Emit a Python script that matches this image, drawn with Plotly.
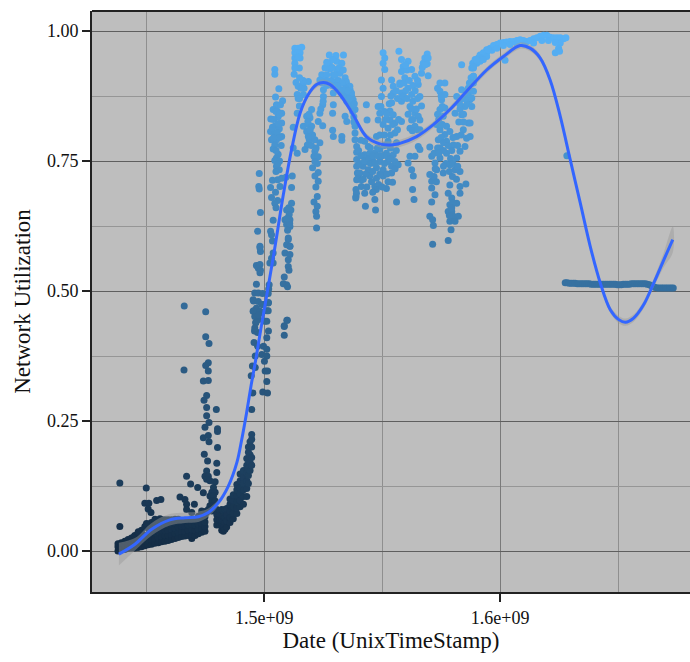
import numpy as np
import plotly.graph_objects as go

# dates are in millions of seconds of Unix time, utilisation is a fraction
LOW_BAND = [
 (1438,.000),(1438,.008),(1438,.014),(1439.4,.002),(1439.4,.009),(1439.4,.016),(1440.9,.003),(1440.9,.011),(1440.9,.019),
 (1442.3,.005),(1442.3,.012),(1442.3,.022),(1443.7,.006),(1443.7,.014),(1443.7,.025),(1445.1,.006),(1445.1,.014),(1445.1,.022),(1445.1,.03),
 (1446.5,.007),(1446.5,.015),(1446.5,.024),(1446.5,.034),(1448,.008),(1448,.017),(1448,.028),(1448,.04),
 (1449.4,.01),(1449.4,.019),(1449.4,.03),(1449.4,.047),(1450.8,.012),(1450.8,.021),(1450.8,.032),(1450.8,.044),(1450.8,.052),
 (1452.2,.013),(1452.2,.022),(1452.2,.034),(1452.2,.046),(1452.2,.055),(1453.6,.015),(1453.6,.024),(1453.6,.036),(1453.6,.048),(1453.6,.057),
 (1455.1,.016),(1455.1,.026),(1455.1,.038),(1455.1,.05),(1455.1,.058),(1456.5,.018),(1456.5,.028),(1456.5,.04),(1456.5,.05),(1456.5,.06),
 (1457.9,.019),(1457.9,.03),(1457.9,.04),(1457.9,.05),(1457.9,.06),(1459.3,.02),(1459.3,.03),(1459.3,.04),(1459.3,.05),(1459.3,.06),
 (1460.7,.022),(1460.7,.032),(1460.7,.042),(1460.7,.052),(1460.7,.06),(1462.2,.024),(1462.2,.034),(1462.2,.044),(1462.2,.054),(1462.2,.061),
 (1463.6,.026),(1463.6,.036),(1463.6,.046),(1463.6,.056),(1463.6,.061),(1465,.028),(1465,.038),(1465,.048),(1465,.058),
 (1466.4,.029),(1466.4,.038),(1466.4,.048),(1466.4,.058),(1467.8,.03),(1467.8,.04),(1467.8,.05),(1467.8,.058),
 (1469.3,.024),(1469.3,.032),(1469.3,.042),(1469.3,.052),(1469.3,.06),(1470.7,.03),(1470.7,.04),(1470.7,.05),(1470.7,.06),
 (1472.1,.033),(1472.1,.042),(1472.1,.052),(1472.1,.062),(1472.1,.067),(1473.5,.036),(1473.5,.044),(1473.5,.054),(1473.5,.064),(1473.5,.072),
 (1474.9,.038),(1474.9,.047),(1474.9,.056),(1474.9,.066),(1474.9,.076),
]
EARLY_SCATTER = [
 (1438.8,.131),(1438.8,.047),(1444.5,.026),(1446.6,.037),(1450,.121),(1449.4,.092),(1451.1,.092),(1450.8,.081),(1452,.074),(1450.1,.053),
 (1453.7,.061),(1455.8,.062),(1454.4,.097),(1456.2,.099),(1464.3,.104),(1466.4,.099),(1467.1,.09),(1470.4,.09),(1467.1,.08),(1469.3,.074),
 (1473.5,.077),(1467.1,.144),(1468.8,.129),(1471.8,.122),(1474.2,.112),(1466.1,.471),(1466,.348),(1475.2,.46),(1475.2,.412),(1476.6,.399),
 (1476.3,.362),(1475.2,.357),(1476.3,.346),(1474.2,.327),(1476.3,.328),(1475.6,.299),(1474.5,.29),(1475.6,.276),(1479.7,.272),(1475.6,.26),
 (1476.6,.247),(1474.9,.238),(1480.2,.235),(1480.2,.23),(1474.2,.218),(1476.3,.222),(1476.6,.21),(1480.2,.199),(1474.6,.186),(1476,.173),
 (1479.9,.169),(1479.9,.151),(1475.6,.154),(1474.9,.144),(1476.3,.144),(1475.6,.138),(1477,.135),(1479.2,.133),(1478.5,.122),(1477.8,.113),
 (1479.2,.113),(1477,.106),(1478.5,.106),(1477.8,.096),(1479.2,.096),(1477,.087),(1478.5,.087),(1476.3,.08),(1475.6,.074),(1477.8,.077),
]
HOOK = [
 (1479.9,.08),(1479.9,.07),(1479.9,.06),(1479.9,.05),(1481.3,.05),(1481.3,.06),(1481.3,.07),(1481.3,.078),(1482,.04),(1482,.05),(1482,.06),(1482,.07),(1482,.08),
 (1482.7,.038),(1482.7,.048),(1482.7,.058),(1482.7,.068),(1482.7,.078),(1483.4,.042),(1483.4,.055),(1483.4,.065),(1483.4,.08),
 (1484.1,.046),(1484.1,.058),(1484.1,.07),(1484.1,.082),(1485.5,.055),(1485.5,.065),(1485.5,.077),(1485.5,.09),(1485.5,.1),
 (1486.9,.062),(1486.9,.073),(1486.9,.085),(1486.9,.097),(1486.9,.108),(1488.4,.072),(1488.4,.083),(1488.4,.095),(1488.4,.107),(1488.4,.118),(1488.4,.128),
 (1489.8,.085),(1489.8,.097),(1489.8,.11),(1489.8,.122),(1489.8,.135),(1489.8,.148),(1491.2,.09),(1491.2,.105),(1491.2,.118),(1491.2,.13),(1491.2,.142),(1491.2,.155),
 (1492.6,.105),(1492.6,.12),(1492.6,.135),(1492.6,.15),(1492.6,.165),(1492.6,.178),(1493.3,.13),(1493.3,.145),(1493.3,.16),(1493.3,.175),(1493.3,.19),(1493.3,.2),
 (1494,.155),(1494,.17),(1494,.185),(1494,.2),(1494,.21),(1494.7,.165),(1494.7,.18),(1494.7,.2),(1494.7,.215),(1494.7,.224),
]
RISE_LOW = [
 (1494.7,.272),(1495.2,.304),(1494.5,.337),(1495,.356),(1496.2,.353),(1496.2,.375),(1495.7,.401),(1497.2,.394),(1495.9,.423),(1497.2,.42),
 (1496.4,.439),(1497.6,.445),(1495.5,.462),(1496.9,.462),(1499,.458),(1501.1,.462),(1495.5,.481),(1499.7,.474),(1501.8,.478),(1501.1,.442),
 (1501.8,.423),(1501.1,.41),(1499.7,.394),(1501.1,.388),(1499,.378),(1501.1,.375),(1500.1,.365),(1500.4,.346),(1501.4,.346),(1501.1,.326),
 (1499.4,.306),(1501.4,.304),(1509.6,.444),(1508.5,.433),(1508.5,.415),
 (1498.2,.583),(1498.4,.576),(1503.8,.573),(1503.1,.563),(1502.4,.554),(1503.8,.554),(1496.7,.549),(1498.2,.551),(1497.5,.544),(1498.2,.535),
 (1498.4,.54),(1510.2,.599),(1510.9,.586),(1508.8,.573),(1510.9,.57),(1510.2,.56),(1510.2,.547),(1510.5,.54),(1508.5,.527),(1508.1,.514),
 (1509.5,.512),(1509.9,.508),(1496.7,.513),(1502.1,.512),(1501.9,.504),(1496,.496),(1497.5,.496),(1499.3,.495),(1501.7,.495),(1495.3,.483),
 (1497.5,.48),(1501.7,.477),(1498.9,.474),(1496.7,.467),(1495.3,.461),(1498.2,.461),(1501.7,.462),(1496,.451),(1497.5,.454),(1496.5,.44),
 (1500.3,.442),(1509.8,.444),(1508.5,.432),(1496,.429),
]
RISE_HIGH = [
 (1497.9,.726),(1497.7,.701),(1497.9,.696),(1498.4,.651),(1497.2,.615),(1498.2,.586),(1504.5,.926),(1504.5,.917),(1506.2,.889),(1504.8,.873),
 (1507.8,.866),(1505.2,.858),(1506.9,.858),(1503.8,.849),(1505.5,.846),(1507.4,.842),(1502.8,.831),(1505.9,.835),(1507.4,.823),(1504.5,.817),
 (1506.4,.812),(1502.7,.807),(1504.5,.804),(1507.4,.797),(1503.1,.791),(1505.2,.791),(1504.5,.781),(1507.2,.78),(1503.8,.773),(1505.9,.763),
 (1505.2,.756),(1504.5,.751),(1505.2,.74),(1506.4,.733),(1505,.73),(1503.5,.713),(1505.7,.714),(1507.4,.717),(1509.2,.719),(1511.9,.721),
 (1502.7,.699),(1506.7,.701),(1511.6,.699),(1503.1,.68),(1505.7,.674),(1504.5,.669),(1505,.66),(1511.6,.669),(1509.5,.656),(1511.3,.656),
 (1510.6,.647),(1503.8,.636),(1508.8,.637),(1510.9,.637),(1509.5,.628),(1510.9,.624),(1502.7,.615),(1503.1,.608),(1510.2,.602),(1503.5,.596),
 (1509.5,.589),(1510.9,.586),
 (1505,.845),(1506.5,.84),(1504,.83),(1506,.822),(1503.5,.815),(1505.5,.805),(1506.5,.795),(1504,.795),(1505,.77),(1506.5,.75),(1505.8,.745),
 (1510.8,.63),(1509.8,.64),(1510.4,.66),(1509.9,.617),(1504.8,.69),
]
FIRST_PEAK = [
 (1513,.967),(1514.4,.967),(1515.9,.969),(1513,.958),(1514.2,.958),(1515.2,.958),(1513,.948),(1515.2,.948),(1513,.938),(1514.9,.929),(1513,.929),
 (1512.7,.917),(1513.5,.901),(1516.6,.9),(1518.7,.903),(1514.4,.894),(1516.9,.89),(1514,.878),(1516.6,.878),(1514.4,.87),(1514.9,.856),
 (1520.1,.849),(1514,.842),(1518,.836),(1519.4,.833),(1512.3,.815),(1516.6,.817),(1518.7,.82),(1520.1,.817),(1518,.807),(1519.7,.801),
 (1519.1,.791),(1521.5,.791),(1523.6,.785),(1518.3,.781),(1517.3,.772),(1514,.765),(1512.3,.775),(1521.5,.769),(1521.1,.759),(1522.9,.758),
 (1521.5,.749),(1520.5,.737),(1522.9,.728),(1521.5,.721),(1522.9,.711),(1521.9,.7),(1522.5,.682),(1521.1,.671),(1522.5,.663),(1521.9,.653),
 (1522.2,.644),(1522.2,.621),
 (1527.6,.954),(1530.4,.953),(1533.6,.954),(1527.6,.938),(1530.7,.942),(1532.9,.938),(1525.8,.929),(1527.9,.927),(1530.7,.926),(1524.4,.916),
 (1526.5,.916),(1529.3,.916),(1532.1,.919),(1534.3,.91),(1523.6,.906),(1527.2,.903),(1530.7,.903),(1535,.897),(1536.4,.887),(1532.9,.887),
 (1525.1,.887),(1535,.878),(1537.1,.874),(1525.1,.874),(1529.3,.881),(1536.4,.862),(1524.8,.858),(1529.3,.858),(1538.5,.849),(1523.6,.842),
 (1529,.842),(1534.3,.836),(1522.9,.826),(1524.8,.818),(1535,.826),(1529,.809),(1538.5,.817),(1529.3,.797),(1532.9,.797),(1532.9,.79),
 (1538.5,.804),(1538.5,.791),(1539.2,.778),(1539.2,.767),(1539.2,.753),(1539.2,.74),(1539.5,.727),(1539.2,.714),(1538.9,.695),(1538.9,.682),
 (1531.5,.89),(1533.5,.885),(1535,.865),(1534.8,.903),(1536.3,.894),(1537,.881),(1537.7,.868),
]
PEAK_FILL = [
 (1526,.905),(1528.5,.905),(1530,.915),(1531.5,.905),(1533,.9),(1534.5,.89),(1526.5,.895),(1528.8,.895),(1531,.895),(1533.5,.875),(1535.5,.885),
 (1536,.87),(1526,.93),(1528.8,.93),(1531.8,.93),(1529,.945),(1526.5,.94),(1533.5,.925),(1524.5,.9),(1525,.865),(1524,.85),(1537,.855),(1538,.835),
 (1538.2,.86),(1537.5,.845),(1538,.825),(1519,.84),(1518.5,.826),(1519.5,.81),(1520.5,.8),(1518.7,.797),(1520,.78),(1522,.775),(1522.5,.745),
 (1516.5,.905),(1515.5,.89),(1515,.91),(1515,.87),(1514.5,.95),
]
MIDDLE_A = [
 (1540.5,.727),(1539.8,.717),(1541.2,.701),(1539.1,.688),(1538.8,.679),(1542.6,.688),(1542.9,.663),(1546.9,.676),(1547.2,.656),(1543.3,.858),
 (1543.6,.829),(1542.6,.788),(1544.1,.778),(1542.6,.762),(1544.8,.765),(1546.9,.765),(1549,.772),(1551.8,.765),(1554.7,.762),(1543.3,.749),
 (1546.2,.749),(1549,.749),(1552.5,.749),(1555.4,.749),(1541.9,.74),(1544.1,.733),(1547.6,.737),(1550.4,.733),(1554,.74),(1556.8,.743),
 (1544.8,.721),(1547.6,.717),(1550.4,.721),(1554,.727),(1541.2,.714),(1546.9,.701),(1551.8,.697),(1554.4,.709),(1556.1,.671),(1550.4,.958),
 (1551.1,.948),(1550.4,.938),(1551.1,.926),(1549.7,.906),(1554,.906),(1550.4,.89),(1549.7,.874),(1548.3,.855),(1549,.842),(1548.3,.829),
 (1550.4,.82),(1553.3,.846),(1554.7,.839),(1553.3,.829),(1555.4,.823),(1558.2,.826),(1552.5,.813),(1555.4,.804),(1547.6,.797),(1552.5,.788),
 (1556.1,.785),
 (1541,.79),(1540,.77),(1541,.76),(1540.5,.745),(1542.5,.75),(1544.5,.755),(1546,.76),(1548,.76),(1550,.76),(1552,.76),(1553.5,.755),(1545,.745),
 (1547,.745),(1551,.745),(1543,.725),(1546,.73),(1549,.725),(1552,.725),(1555.5,.735),(1542,.715),(1545.5,.71),(1548.5,.705),(1552.5,.71),(1543.5,.7),
 (1547.5,.695),(1550,.7),(1546,.69),(1548,.775),(1545,.775),(1551,.78),(1553.5,.775),(1556,.77),(1549,.8),(1551,.8),(1553.5,.8),(1549.5,.855),
 (1551,.845),(1551.5,.83),(1552,.84),(1553,.86),(1554.5,.82),(1556.5,.81),(1557,.83),
]
MIDDLE_B = [
 (1557.1,.961),(1558.2,.945),(1561,.942),(1558.9,.932),(1558.2,.922),(1562.5,.926),(1559.6,.91),(1563.9,.913),(1566.7,.919),(1569.5,.914),
 (1554.7,.894),(1557.5,.897),(1561,.89),(1565.3,.897),(1554.7,.881),(1558.2,.881),(1562.5,.878),(1566,.874),(1554,.862),(1558.2,.865),
 (1561.8,.855),(1566.7,.856),(1563.9,.842),(1565.3,.836),(1562.5,.829),(1566,.829),(1561.8,.813),(1563.9,.817),(1566,.81),(1565.3,.778),
 (1566,.772),(1561.8,.759),(1563.9,.759),(1561,.746),(1562.5,.733),(1563.2,.721),(1562.9,.695),(1563.5,.676),(1569.1,.956),(1568.1,.948),
 (1569.5,.948),(1567.4,.938),(1569.1,.937),
 (1553.7,.875),(1556,.885),(1556.5,.87),(1560,.885),(1559,.875),(1557.5,.9),(1559.3,.9),(1560.5,.925),(1560,.935),(1561.5,.905),(1563,.895),
 (1564,.885),(1565,.905),(1560.5,.87),(1563,.865),(1565,.87),(1562.5,.85),(1564.5,.85),(1561,.84),(1563,.83),(1562.8,.808),(1565,.81),(1567,.93),(1568.2,.935),
]
MIDDLE_C = [
 (1574.5,.9),(1576.6,.9),(1574.5,.884),(1576.6,.878),(1575.2,.868),(1574.5,.849),(1576.6,.852),(1575.9,.836),(1573.1,.82),(1577.3,.817),
 (1574.5,.81),(1576.6,.801),(1573.8,.791),(1577.3,.788),(1570.2,.777),(1574.5,.775),(1577.3,.765),(1571,.759),(1574.5,.756),(1572.4,.746),
 (1573.1,.733),(1570.2,.724),(1575.9,.727),(1571,.711),(1571,.698),(1572.4,.685),(1571,.671),(1570.2,.644),(1571.4,.637),(1571.7,.626),
 (1571.4,.59),(1578.7,.704),(1578,.688),(1579.5,.679),(1578.7,.666),(1578,.653),(1579.5,.653),(1580.2,.644),(1582.3,.644),(1578.7,.634),
 (1580.9,.634),(1579.2,.618),(1578,.597),(1581.6,.669),(1583,.688),(1583,.701),(1585.5,.706),(1583,.73),(1580.9,.733),(1578.7,.743),
 (1581.6,.756),(1583,.769),(1585.1,.778),(1580.2,.781),(1581.6,.797),(1578.7,.807),(1585.8,.794),(1580.9,.842),(1583.7,.839),(1586.5,.823),
 (1584.4,.81),(1585.1,.855),(1587.2,.868),(1581.6,.874),(1583.7,.887),(1586.5,.878),(1588.7,.9),(1588.7,.913),(1583.7,.935),
 (1573.5,.89),(1575,.875),(1575.5,.855),(1573.5,.84),(1574,.83),(1575.5,.82),(1575,.795),(1576,.785),(1573.5,.775),(1572,.765),(1576,.77),(1574,.765),
 (1572.5,.735),(1572,.72),(1573,.71),(1578,.78),(1579.5,.77),(1580,.795),(1582,.78),(1579,.755),(1577,.745),(1576,.74),(1578.5,.73),(1580,.745),
 (1582,.74),(1579.8,.72),(1581.5,.715),(1580,.67),(1579.5,.66),(1578.5,.645),(1583,.85),(1584.5,.84),(1582.5,.825),(1584.5,.825),(1583.5,.8),
 (1586,.86),(1585,.87),(1586.5,.89),(1587,.9),(1587.7,.91),(1584,.87),(1582.8,.86),
]
TOP_BAND = [
 (1588,.929),(1588.4,.938),(1589.4,.945),(1590.8,.948),(1591.5,.954),(1592.9,.958),(1594.3,.964),(1595.8,.967),(1597.2,.972),(1598.6,.974),
 (1600,.977),(1601.4,.978),(1602.8,.979),(1604.2,.98),(1605.7,.98),(1607.1,.982),(1608.5,.983),(1609.9,.982),(1611.3,.98),(1612.7,.982),
 (1614.2,.985),(1615.6,.987),(1617,.99),(1618.4,.992),(1619.8,.992),(1621.2,.988),(1622.7,.987),(1624.1,.987),(1625.5,.987),(1626.9,.985),
 (1627.9,.987),(1625.5,.977),(1624.8,.967),(1623.4,.958),(1625.2,.961),(1602.1,.944),(1628.3,.76),
 (1588.7,.929),(1590.1,.938),(1592.2,.948),(1594.3,.958),(1596.5,.963),(1598.6,.967),(1601.4,.972),(1604.2,.974),(1607.1,.976),(1610.6,.976),
 (1614.2,.977),(1617.7,.982),(1620.5,.982),(1623.4,.978),(1588.7,.913),(1588,.9),(1588.7,.884),(1588,.871),(1588,.855),(1587.3,.823),(1587.3,.797),
 (1591.5,.942),(1594.3,.951),(1595,.964),(1590.1,.945),(1592.9,.945),(1588.7,.932),
]
FLAT_BAND = [
 (1627.6,.516),(1628.4,.516),(1629.3,.515),(1630.1,.515),(1631,.515),(1631.8,.515),(1632.7,.514),(1633.5,.514),(1634.4,.514),(1635.2,.514),
 (1636.1,.514),(1636.9,.514),(1637.8,.514),(1638.6,.513),(1639.5,.513),(1640.3,.513),(1641.2,.513),(1642,.513),(1642.9,.513),(1643.7,.513),
 (1644.6,.513),(1645.4,.513),(1646.3,.513),(1647.1,.513),(1648,.513),(1648.8,.513),(1649.7,.512),(1650.5,.512),(1651.4,.512),(1652.2,.513),
 (1653.1,.513),(1653.9,.513),(1654.8,.513),(1655.6,.514),(1656.5,.514),(1657.3,.514),(1658.2,.514),(1659,.514),(1659.9,.514),(1660.7,.514),
 (1661.6,.514),(1662.4,.513),(1663.3,.512),(1664.1,.51),(1665,.508),(1665.8,.507),(1666.7,.506),(1667.5,.506),(1668.4,.506),(1669.2,.506),
 (1670.1,.506),(1670.9,.506),(1671.8,.506),(1672.6,.506),(1673.4,.506),
]
SMOOTH_DATES = [1438.4,1445.2,1452.3,1460,1466.4,1472.1,1476.3,1480.6,1484.8,1488.4,1490.5,1492.5,1494.5,1496.5,1498.5,1501,1504.5,1508.1,1511.6,
 1515.2,1518.7,1522.2,1525.1,1527.9,1532.1,1537.7,1543.3,1549,1553.3,1557.5,1564.6,1571.7,1578.7,1585.8,1594.3,1601.4,1608.5,1612.7,1617,
 1621.2,1625.5,1629.7,1634,1638.2,1642.5,1646.7,1650.3,1653.1,1656.6,1660.9,1665.1,1669.4,1673.2]
SMOOTH_UTIL = [-.006,.013,.042,.06,.064,.066,.074,.093,.125,.17,.215,.265,.32,.37,.425,.49,.583,.685,.772,
 .842,.878,.897,.901,.897,.878,.839,.797,.783,.781,.784,.797,.82,.849,.884,.925,.951,.972,.967,.948,
 .906,.836,.753,.669,.586,.515,.464,.445,.44,.448,.474,.515,.56,.599]
SMOOTH_SE = [.022,.012,.012,.011,.010,.010,.008,.006,.005,.005,.005,.005,.005,.005,.005,.005,.005,.005,.005,
 .005,.005,.006,.006,.006,.006,.006,.006,.007,.007,.007,.007,.006,.006,.006,.006,.006,.006,.006,.006,
 .005,.005,.005,.005,.005,.005,.006,.007,.007,.007,.007,.008,.014,.025]

CLUSTERS = [LOW_BAND, EARLY_SCATTER, HOOK, RISE_LOW, RISE_HIGH, FIRST_PEAK, PEAK_FILL, MIDDLE_A, MIDDLE_B, MIDDLE_C, TOP_BAND, FLAT_BAND]
points = np.array([p for c in CLUSTERS for p in c])
date = points[:, 0] * 1e6
util = points[:, 1]
sd = np.array(SMOOTH_DATES) * 1e6
su = np.array(SMOOTH_UTIL)
se = np.array(SMOOTH_SE)

FONT = "Liberation Serif"
fig = go.Figure()
fig.add_trace(go.Scatter(x=date, y=util, mode="markers", showlegend=False, hoverinfo="skip",
    marker=dict(size=7, color=util, cmin=0, cmax=0.99, line=dict(width=0),
                colorscale=[[0, "#132B43"], [1, "#56B1F7"]], showscale=False)))
fig.add_trace(go.Scatter(x=np.r_[sd, sd[::-1]], y=np.r_[su + se, (su - se)[::-1]], mode="lines", fill="toself",
    line=dict(width=0, shape="spline"), fillcolor="rgba(153,153,153,0.45)", showlegend=False, hoverinfo="skip"))
fig.add_trace(go.Scatter(x=sd, y=su, mode="lines", line=dict(color="#3366FF", width=3, shape="spline", smoothing=1),
    showlegend=False, hoverinfo="skip"))
fig.update_layout(width=690, height=662, margin=dict(l=92, r=0, t=11, b=70), paper_bgcolor="white", plot_bgcolor="#BEBEBE",
    font=dict(family=FONT, color="#111111"))
axis_line = dict(showline=True, linecolor="#222222", linewidth=2, ticks="outside", ticklen=8, tickwidth=1.5, tickcolor="#222222", zeroline=False)
fig.update_xaxes(range=[1.427e9, 1.6805e9], tickvals=[1.5e9, 1.6e9], ticktext=["1.5e+09", "1.6e+09"], tickfont=dict(size=18, family=FONT),
    title=dict(text="Date (UnixTimeStamp)", font=dict(size=23, family=FONT), standoff=4), showgrid=True, gridcolor="#7a7a7a", gridwidth=1.2,
    minor=dict(tickvals=[1.45e9, 1.55e9, 1.65e9], showgrid=True, gridcolor="#8f8f8f", gridwidth=1.2, ticks=""), mirror=False, **axis_line)
fig.update_yaxes(range=[-0.0788, 1.0385], tickvals=[0, .25, .5, .75, 1], ticktext=["0.00", "0.25", "0.50", "0.75", "1.00"], tickfont=dict(size=18, family=FONT),
    title=dict(text="Network Utilization", font=dict(size=23, family=FONT), standoff=10), showgrid=True, gridcolor="#5f5f5f", gridwidth=1,
    minor=dict(tickvals=[.125, .375, .625, .875], showgrid=True, gridcolor="#969696", gridwidth=1, ticks=""), **axis_line)
fig.add_shape(type="line", xref="paper", yref="paper", x0=0, x1=1, y0=1, y1=1, line=dict(color="#222222", width=2))
fig.write_html("out.html", config={"displayModeBar": False}, post_script="document.body.style.margin='0';")
